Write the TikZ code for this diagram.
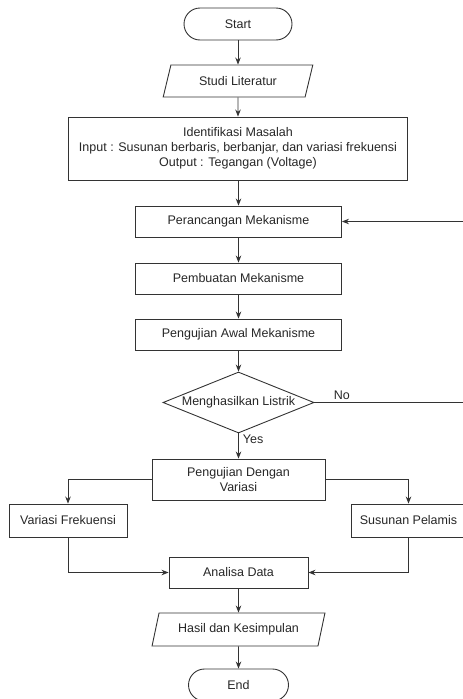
\documentclass[tikz,border=0pt]{standalone}
\usepackage{fontspec}
\setmainfont{Liberation Sans}
\usetikzlibrary{shapes.geometric}
\usetikzlibrary{arrows.meta}

\begin{document}
\begin{tikzpicture}[x=1pt, y=-1pt,
            font=\fontsize{12.5}{15}\selectfont,
            line/.style={draw=black!80, line width=0.9pt},
            arr/.style={line, -{Stealth[length=7pt, width=5.5pt]}},
            box/.style={line, rectangle, text=black!85, align=center, inner sep=2pt,
                minimum width=206pt, minimum height=31pt},
            terminal/.style={line, rectangle, rounded corners=16pt, text=black!85,
                minimum width=100pt, minimum height=32pt},
            io/.style={line, trapezium, trapezium left angle=73, trapezium right angle=107,
                trapezium stretches=true, text=black!85, minimum height=32pt},
            decision/.style={line, diamond, inner sep=0pt, minimum width=151pt, minimum height=61pt},
            tag/.style={text=black!85, inner sep=2pt}]
            \useasboundingbox (0,0) rectangle (463,699);

            % Start and literature
            \node[terminal, minimum width=108pt] (start) at (238,24) {Start};
            \node[io, minimum width=150pt] (studi) at (238,81) {Studi Literatur};

            % Problem identification
            \node[box, minimum width=339pt, minimum height=63pt] (identifikasi) at (238,148.5)
                {Identifikasi Masalah\\Input : Susunan berbaris, berbanjar, dan variasi frekuensi\\Output : Tegangan (Voltage)};

            % Mechanism steps
            \node[box] (perancangan) at (238.5,221.5) {Perancangan Mekanisme};
            \node[box] (pembuatan) at (238.5,278.5) {Pembuatan Mekanisme};
            \node[box] (ujiawal) at (238.5,334.5) {Pengujian Awal Mekanisme};

            % Decision
            \node[decision, label={[tag]center:Menghasilkan Listrik}] (cek) at (238.5,402.5) {};
            \coordinate (balikbawah) at (467,402.5);
            \coordinate (balikatas) at (467,221.5);

            % Variation tests
            \node[box, minimum width=173pt, minimum height=41pt, inner sep=1pt] (ujivariasi) at (238.5,479.5)
                {Pengujian Dengan\\Variasi};
            \node[box, minimum width=118pt, minimum height=33pt] (frekuensi) at (68,520.5) {Variasi Frekuensi};
            \node[box, minimum width=115pt, minimum height=33pt] (pelamis) at (408.5,520.5) {Susunan Pelamis};

            % Analysis and end
            \node[box, minimum width=139pt] (analisa) at (238.5,572.5) {Analisa Data};
            \node[io, minimum width=173pt, minimum height=33pt] (hasil) at (238.5,629.5) {Hasil dan Kesimpulan};
            \node[terminal] (end) at (238.5,685) {End};

            % Connectors
            \draw[arr] (start) -- (studi);
            \draw[arr] (studi) -- (identifikasi);
            \draw[arr] (identifikasi.south -| perancangan) -- (perancangan);
            \draw[arr] (perancangan) -- (pembuatan);
            \draw[arr] (pembuatan) -- (ujiawal);
            \draw[arr] (ujiawal) -- (cek);
            \draw[arr] (cek) -- node[tag, right, pos=0.25, xshift=2pt] {Yes} (ujivariasi);
            \draw[arr] (cek.east) -- node[tag, above, pos=0.18] {No} (balikbawah) -- (balikatas) -- (perancangan.east);
            \draw[arr] (ujivariasi.west) -| (frekuensi.north);
            \draw[arr] (ujivariasi.east) -| (pelamis.north);
            \draw[arr] (frekuensi.south) |- (analisa.west);
            \draw[arr] (pelamis.south) |- (analisa.east);
            \draw[arr] (analisa) -- (hasil);
            \draw[arr] (hasil) -- (end);
        \end{tikzpicture}
\end{document}
